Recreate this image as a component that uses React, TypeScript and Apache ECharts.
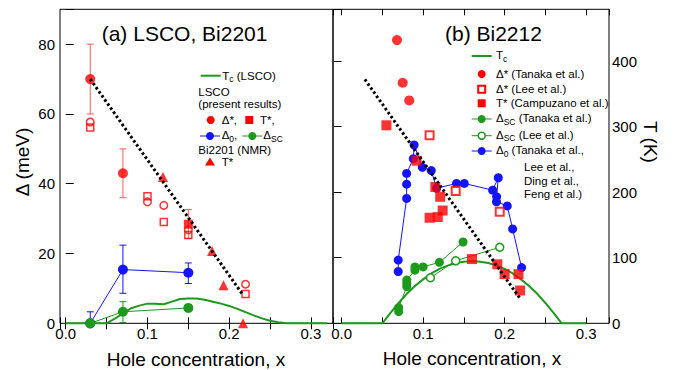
import React, { useEffect, useRef } from 'react';
import * as echarts from 'echarts';

const FONT = "'Liberation Sans', Arial, Helvetica, sans-serif";
const RED = '#ff0000';
const RED_BAR = '#ff5c5c';
const BLUE = '#1414ff';
const GREEN = '#1c9a1c';
const NONE = 'rgba(0,0,0,0)';

// ---------- Panel (a) LSCO, Bi2201 (meV; Tc in K) ----------
const lscoTcK: number[][] = [
  [0, 0], [0.05, 0], [0.06, 7], [0.07, 15], [0.08, 23], [0.09, 27], [0.1, 30], [0.11, 30],
  [0.12, 29], [0.13, 33], [0.14, 37], [0.15, 38], [0.16, 38], [0.17, 36], [0.18, 33],
  [0.19, 30], [0.2, 26.5], [0.21, 22], [0.22, 17], [0.23, 12], [0.24, 7.5], [0.25, 4],
  [0.26, 1.5], [0.27, 0], [0.32, 0],
];
const aDeltaStar: number[][] = [[0.03, 70], [0.07, 43]];
const aDeltaStarErr: number[][] = [[0.03, 60, 80], [0.07, 36, 50]];
const aTStar: number[][] = [[0.15, 28.4]];
const aTStarErr: number[][] = [[0.15, 24.3, 32.6]];
const aOpenCircle: number[][] = [[0.03, 57.7], [0.1, 34.8], [0.12, 33.8], [0.15, 26.8], [0.22, 11.2]];
const aOpenSquare: number[][] = [[0.03, 56.1], [0.1, 36.4], [0.12, 29.0], [0.15, 25.3], [0.22, 8.4]];
const aDelta0: number[][] = [[0.03, 0], [0.07, 15.4], [0.15, 14.5]];
const aDelta0Err: number[][] = [[0.03, 0, 3.3], [0.07, 8.6, 22.4], [0.15, 11.4, 17.3]];
const aDeltaSC: number[][] = [[0.03, 0], [0.07, 3.3], [0.15, 4.4]];
const aDeltaSCErr: number[][] = [[0.07, 0.2, 6.2]];
const bi2201TStar: number[][] = [[0.119, 41.9], [0.179, 20.7], [0.193, 10.9], [0.217, 0]];
const aGuide: number[][] = [[0.03, 70], [0.217, 8.1]];

// ---------- Panel (b) Bi2212 (K) ----------
const bTc: number[][] = [
  [0, 0], [0.05, 0], [0.06, 16], [0.07, 31], [0.08, 45], [0.09, 57], [0.1, 67], [0.11, 76],
  [0.12, 83], [0.13, 88], [0.14, 92], [0.15, 94], [0.16, 95], [0.17, 94], [0.18, 92],
  [0.19, 88], [0.2, 83], [0.21, 76], [0.22, 67], [0.23, 57], [0.24, 45], [0.25, 31],
  [0.26, 16], [0.27, 0], [0.3, 0],
];
const bDeltaStarTanaka: number[][] = [[0.068, 432], [0.075, 367], [0.083, 340]];
const bDeltaStarLee: number[][] = [[0.108, 287], [0.14, 202], [0.194, 170]];
const bTStarCampuzano: number[][] = [
  [0.055, 302], [0.092, 248], [0.115, 208], [0.121, 193], [0.124, 172], [0.108, 161],
  [0.118, 162], [0.16, 98], [0.191, 90], [0.2, 75], [0.217, 75], [0.219, 50],
];
const bDeltaSCTanaka: number[][] = [
  [0.07, 18], [0.07, 24], [0.08, 56], [0.08, 61], [0.08, 66], [0.09, 81], [0.09, 86],
  [0.1, 86], [0.12, 93], [0.149, 124],
];
const bDeltaSCLee: number[][] = [[0.109, 69.5], [0.14, 95.4], [0.194, 116]];
const bDelta0: number[][] = [
  [0.0695, 79], [0.0695, 96.5], [0.0798, 190.5], [0.0798, 212.3], [0.0798, 228.7],
  [0.088, 251], [0.089, 272], [0.099, 238], [0.11, 233], [0.1165, 206], [0.141, 213.4],
  [0.1505, 213.4], [0.1853, 203], [0.1922, 222], [0.1902, 193], [0.19, 185.4],
  [0.2032, 179], [0.2098, 144], [0.2208, 85],
];
const bGuide: number[][] = [[0.0286, 372], [0.2188, 38]];

// ---------- tick labels ----------
const xTickLabels = ['0.0', '0.1', '0.2', '0.3'];
const meVTicks = [0, 20, 40, 60, 80];
const kTicks = [0, 100, 200, 300, 400];

function errSeries(data: number[][], color: string, xi: number, yi: number) {
  return {
    type: 'custom',
    xAxisIndex: xi,
    yAxisIndex: yi,
    data,
    encode: { x: 0, y: [1, 2] },
    clip: false,
    z: 3,
    renderItem: (_p: any, api: any) => {
      const x = api.value(0);
      const lo = api.coord([x, api.value(1)]);
      const hi = api.coord([x, api.value(2)]);
      const w = 3.5;
      const style = { stroke: color, lineWidth: 1, fill: 'none' };
      return {
        type: 'group',
        children: [
          { type: 'line', shape: { x1: lo[0], y1: lo[1], x2: hi[0], y2: hi[1] }, style },
          { type: 'line', shape: { x1: lo[0] - w, y1: lo[1], x2: lo[0] + w, y2: lo[1] }, style },
          { type: 'line', shape: { x1: hi[0] - w, y1: hi[1], x2: hi[0] + w, y2: hi[1] }, style },
        ],
      };
    },
  };
}

function scatter(data: number[][], xi: number, yi: number, symbol: string, size: number, item: any, z = 5) {
  return { type: 'scatter', xAxisIndex: xi, yAxisIndex: yi, data, symbol, symbolSize: size, itemStyle: item, z, clip: false };
}

function lineMk(data: number[][], xi: number, yi: number, color: string, size: number, item: any, z = 4) {
  return {
    type: 'line', xAxisIndex: xi, yAxisIndex: yi, data, symbol: 'circle', symbolSize: size, showSymbol: true,
    lineStyle: { color, width: 1 }, itemStyle: item, z, clip: false,
  };
}

function curve(data: number[][], xi: number, yi: number, color: string, width: number, type: any = 'solid', z = 2) {
  return {
    type: 'line', xAxisIndex: xi, yAxisIndex: yi, data, symbol: 'none', showSymbol: false,
    lineStyle: { color, width, type }, z, clip: false,
  };
}

const SUBRICH = {
  s: { fontSize: 8.5, fontFamily: FONT, fill: '#000', color: '#000', padding: [7, 0, 0, 0], lineHeight: 9 },
};

function txt(x: number, y: number, text: string, size: number, extra: any = {}) {
  return {
    type: 'text', x, y, z: 100,
    rotation: extra.rotation || 0,
    style: {
      text, fill: '#000', fontSize: size, fontFamily: FONT,
      align: extra.align || 'left', verticalAlign: 'middle',
      textAlign: extra.align || 'left', textVerticalAlign: 'middle',
      rich: SUBRICH,
    },
  };
}
function gline(x1: number, x2: number, y: number, color: string, w = 1) {
  return { type: 'line', z: 100, shape: { x1, y1: y, x2, y2: y }, style: { stroke: color, lineWidth: w } };
}
function gcircle(cx: number, cy: number, r: number, fill: string, stroke?: string) {
  return { type: 'circle', z: 101, shape: { cx, cy, r }, style: { fill, stroke: stroke || fill, lineWidth: stroke ? 1.5 : 0 } };
}
function grect(cx: number, cy: number, s: number, fill: string, stroke?: string) {
  return {
    type: 'rect', z: 101, shape: { x: cx - s / 2, y: cy - s / 2, width: s, height: s },
    style: { fill, stroke: stroke || fill, lineWidth: stroke ? 2 : 0 },
  };
}

const xFmt = (v: number) => {
  const r = Math.round(v * 10);
  if (Math.abs(v * 10 - r) < 1e-6 && r >= 0 && r < xTickLabels.length) return xTickLabels[r];
  return '';
};
const yFmt = (ticks: number[]) => (v: number) => (ticks.indexOf(Math.round(v)) >= 0 && Math.abs(v - Math.round(v)) < 1e-6 ? String(Math.round(v)) : '');

function xAxis(gi: number, min: number, max: number, pos: 'bottom' | 'top') {
  return {
    type: 'value', gridIndex: gi, position: pos, min, max, splitNumber: 7,
    axisLine: { show: false }, splitLine: { show: false },
    axisTick: { show: true, inside: true, length: 6, lineStyle: { color: '#000', width: 1 } },
    axisLabel: {
      show: pos === 'bottom', formatter: xFmt, color: '#000', fontSize: 15, fontFamily: FONT, margin: 3,
      showMinLabel: true, showMaxLabel: true,
    },
  };
}

export default function App() {
  const ref = useRef<HTMLDivElement>(null);
  useEffect(() => {
    if (!ref.current) return;
    const chart = echarts.init(ref.current, null, { renderer: 'svg' });
    const option: any = {
      animation: false,
      grid: [
        { left: 60, top: 9.3, width: 273, height: 314, show: true, borderColor: '#000', borderWidth: 1, backgroundColor: NONE },
        { left: 333, top: 9.3, width: 276, height: 314, show: true, borderColor: '#000', borderWidth: 1, backgroundColor: NONE },
      ],
      xAxis: [
        xAxis(0, -0.007, 0.327, 'bottom'),
        xAxis(0, -0.007, 0.327, 'top'),
        xAxis(1, -0.0105, 0.328, 'bottom'),
        xAxis(1, -0.0105, 0.328, 'top'),
      ],
      yAxis: [
        {
          type: 'value', gridIndex: 0, position: 'left', min: 0, max: 90, interval: 20,
          axisLine: { show: false }, splitLine: { show: false },
          axisTick: { show: true, inside: true, length: 8, lineStyle: { color: '#000' } },
          axisLabel: { formatter: yFmt(meVTicks), color: '#000', fontSize: 15, fontFamily: FONT, margin: 5 },
        },
        { type: 'value', gridIndex: 0, position: 'right', min: 0, max: 479, show: false },
        {
          type: 'value', gridIndex: 1, position: 'right', min: 0, max: 479, interval: 100,
          axisLine: { show: false }, splitLine: { show: false },
          axisTick: { show: true, inside: true, length: 8, lineStyle: { color: '#000' } },
          axisLabel: { formatter: yFmt(kTicks), color: '#000', fontSize: 15, fontFamily: FONT, margin: 3 },
        },
      ],
      series: [
        // Panel (a)
        curve(lscoTcK, 0, 1, GREEN, 2),
        errSeries(aDeltaStarErr, RED_BAR, 0, 0),
        errSeries(aTStarErr, RED_BAR, 0, 0),
        errSeries(aDelta0Err, BLUE, 0, 0),
        errSeries(aDeltaSCErr, GREEN, 0, 0),
        lineMk(aDelta0, 0, 0, BLUE, 10, { color: BLUE }),
        lineMk(aDeltaSC, 0, 0, GREEN, 10, { color: GREEN }),
        scatter(aOpenCircle, 0, 0, 'circle', 7.5, { color: NONE, borderColor: RED, borderWidth: 1.5 }),
        scatter(aOpenSquare, 0, 0, 'rect', 7, { color: NONE, borderColor: RED, borderWidth: 1.5 }),
        scatter(aDeltaStar, 0, 0, 'circle', 10, { color: RED }),
        scatter(aTStar, 0, 0, 'rect', 9, { color: RED }),
        scatter(bi2201TStar, 0, 0, 'triangle', 10, { color: RED }),
        curve(aGuide, 0, 0, '#000', 3, [2.5, 2.5], 8),
        // Panel (b)
        curve(bTc, 2, 2, GREEN, 2),
        lineMk(bDelta0, 2, 2, BLUE, 9, { color: BLUE }),
        lineMk(bDeltaSCTanaka, 2, 2, GREEN, 9, { color: GREEN }),
        lineMk(bDeltaSCLee, 2, 2, GREEN, 8, { color: '#fff', borderColor: GREEN, borderWidth: 1.5 }),
        scatter(bDeltaStarTanaka, 2, 2, 'circle', 10, { color: RED }),
        scatter(bDeltaStarLee, 2, 2, 'rect', 8, { color: '#fff', borderColor: RED, borderWidth: 2 }),
        scatter(bTStarCampuzano, 2, 2, 'rect', 10, { color: RED }, 6),
        curve(bGuide, 2, 2, '#000', 3, [2.5, 2.5], 8),
      ],
      graphic: [
        // titles
        txt(101.7, 33, '(a) LSCO, Bi2201', 21),
        txt(445, 33, '(b) Bi2212', 21),
        // axis names
        txt(22, 162, 'Δ (meV)', 19, { align: 'center', rotation: Math.PI / 2 }),
        txt(650, 142, 'T (K)', 19, { align: 'center', rotation: -Math.PI / 2 }),
        txt(196, 359, 'Hole concentration, x', 19, { align: 'center' }),
        txt(472, 358, 'Hole concentration, x', 19, { align: 'center' }),
        // legend (a)
        gline(200.7, 220.7, 75.7, GREEN, 2),
        txt(222.3, 75.7, 'T{s|c} (LSCO)', 11.5),
        txt(198.3, 92, 'LSCO', 11.5),
        txt(198.3, 104, '(present results)', 11.5),
        gcircle(210.7, 120, 4, RED),
        txt(221.7, 120, 'Δ*,', 11.5),
        grect(249.3, 120, 8, RED),
        txt(260, 120, 'T*,', 11.5),
        gline(200, 220, 136, BLUE, 1),
        gcircle(210, 136, 4, BLUE),
        txt(221.7, 135, 'Δ{s|0},', 11.5),
        gline(242.3, 262.3, 136, GREEN, 1),
        gcircle(252.3, 136, 4, GREEN),
        txt(263.3, 135, 'Δ{s|SC}', 11.5),
        txt(198.3, 150, 'Bi2201 (NMR)', 11.5),
        { type: 'polygon', z: 101, shape: { points: [[205, 165.5], [215, 165.5], [210, 157.5]] }, style: { fill: RED } },
        txt(221.7, 161.7, 'T*', 11.5),
        // legend (b)
        gline(471.7, 491.7, 56, GREEN, 2),
        txt(496, 55, 'T{s|c}', 11.5),
        gcircle(481.7, 74, 4, RED),
        txt(496, 74, 'Δ* (Tanaka et al.)', 11.5),
        grect(481.7, 89.3, 7, '#fff', RED),
        txt(496, 89.3, 'Δ* (Lee et al.)', 11.5),
        grect(481.7, 103.3, 8, RED),
        txt(496, 103.3, 'T* (Campuzano et al.)', 11.5),
        gline(471.7, 491.7, 119, GREEN, 1),
        gcircle(481.7, 119, 4, GREEN),
        txt(496, 118, 'Δ{s|SC} (Tanaka et al.)', 11.5),
        gline(471.7, 491.7, 135.7, GREEN, 1),
        gcircle(481.7, 135.7, 3.5, '#fff', GREEN),
        txt(496, 134.7, 'Δ{s|SC} (Lee et al.)', 11.5),
        gline(471.7, 491.7, 151, BLUE, 1),
        gcircle(481.7, 151, 4, BLUE),
        txt(496, 150, 'Δ{s|0} (Tanaka et al.,', 11.5),
        txt(524, 166.5, 'Lee et al.,', 11.5),
        txt(524, 180.5, 'Ding et al.,', 11.5),
        txt(524, 193.5, 'Feng et al.)', 11.5),
      ],
    };
    chart.setOption(option);
    return () => chart.dispose();
  }, []);
  return <div ref={ref} style={{ position: 'fixed', left: 0, top: 0, width: 680, height: 370, background: '#fff' }} />;
}
